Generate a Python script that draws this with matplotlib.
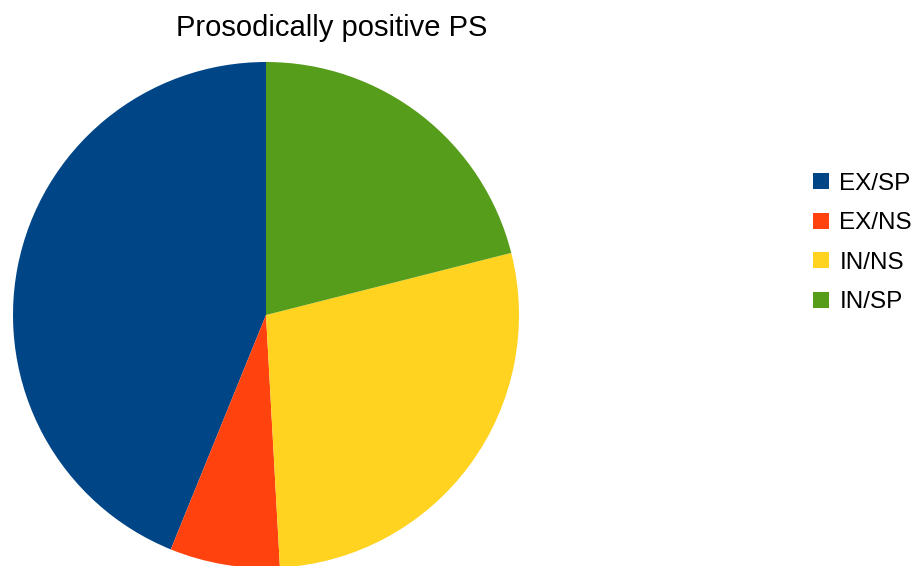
import matplotlib
matplotlib.use("Agg")
import matplotlib.pyplot as plt

plt.rcParams['font.family'] = ['Liberation Sans', 'DejaVu Sans']

labels = ['EX/SP', 'EX/NS', 'IN/NS', 'IN/SP']
counts = [25, 4, 16, 12]
colors = ['#004586', '#ff420e', '#ffd320', '#579d1c']

fig = plt.figure(figsize=(9.18, 5.66), dpi=100)
ax = fig.add_axes([13 / 918, -2 / 566, 506 / 918, 506 / 566])
wedges, _ = ax.pie(counts, colors=colors, startangle=90, counterclock=True,
                   radius=1.0, wedgeprops=dict(linewidth=0))
ax.set_xlim(-1, 1)
ax.set_ylim(-1, 1)
ax.set_aspect('equal')

fig.text(332 / 918, 1 - 36 / 566, 'Prosodically positive PS', ha='center', va='baseline',
         fontsize=21)

fig.legend(wedges, labels, loc='center left', bbox_to_anchor=(813 / 918, 1 - 243 / 566),
           frameon=False, fontsize=17.5, handlelength=0.66, handleheight=0.66,
           handletextpad=0.42, labelspacing=0.72, borderpad=0, borderaxespad=0)

fig.savefig('out.png', dpi=100)
